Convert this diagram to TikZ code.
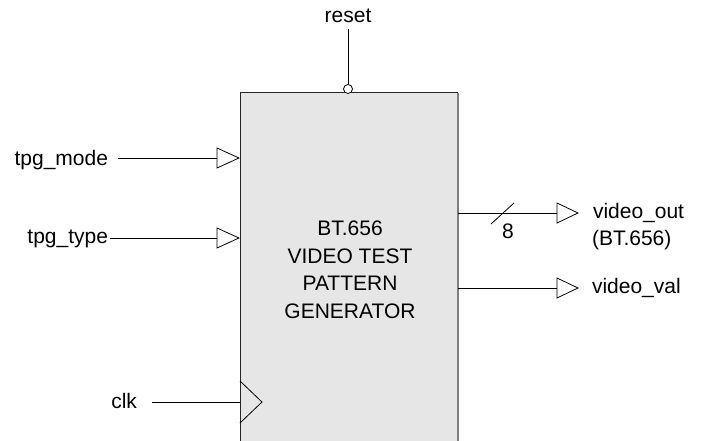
\documentclass[tikz,border=0pt]{standalone}
\usepackage{fontspec}
\setmainfont{Liberation Sans}
\definecolor{blockgray}{HTML}{E6E6E6}
\definecolor{edgegray}{HTML}{7F7F7F}
\begin{document}
\begin{tikzpicture}[x=1pt,y=-1pt,
  font=\fontsize{21}{27.5}\selectfont,
  wire/.style={line width=1pt, black},
  tri/.style={line width=0.8pt, draw=black, fill=white, line join=miter},
  lbl/.style={inner sep=0pt, outer sep=0pt}]
\useasboundingbox (0,0) rectangle (701,441);
% block
\node[fill=blockgray, draw=none, minimum width=218pt, minimum height=348pt, anchor=north west, inner sep=0pt, outer sep=0pt] (blk) at (240,93) {};
\draw[line width=1pt, black!85] (blk.south west) -- (blk.north west) -- (blk.north east);
\draw[line width=1.6pt, edgegray] (blk.north east) -- (blk.south east);
\node[lbl, align=center, anchor=base] (title) at (350,318) {BT.656\\VIDEO TEST\\PATTERN\\GENERATOR};
% reset
\node[lbl, anchor=base, inner sep=0pt] (reset) at (348,23) {reset};
\node[circle, draw, line width=0.8pt, fill=white, minimum size=9pt, inner sep=0pt] (rstb) at (348,89) {};
\draw[wire] ([yshift=-6pt]reset.south) -- (rstb.north);
% inputs
\coordinate (pm) at (217,158);
\coordinate (pt) at (217,238);
\coordinate (ck) at (240,402);
\node[lbl, anchor=base east] (mode) at (108,165) {tpg\_mode};
\node[lbl, anchor=base east] (type) at (108,243) {tpg\_type};
\node[lbl, anchor=base east] (clk) at (137,408) {clk};
\draw[wire] ([xshift=10pt]mode.east |- pm) -- (pm);
\draw[wire] ([xshift=2pt]type.east |- pt) -- (pt);
\draw[wire] ([xshift=15pt]clk.east |- ck) -- (ck);
\draw[tri] (pm) ++(0,-10) -- ++(22,10) -- ++(-22,10) -- cycle;
\draw[tri] (pt) ++(0,-10) -- ++(22,10) -- ++(-22,10) -- cycle;
\draw[line width=0.8pt, line join=miter] (ck) ++(0,-21) -- ++(22,21) -- ++(-22,21);
% outputs
\coordinate (po) at (557,213);
\coordinate (pv) at (557,288);
\draw[wire] (blk.east |- po) -- (po);
\draw[wire] (blk.east |- pv) -- (pv);
\draw[tri] (po) ++(0,-10) -- ++(21,10) -- ++(-21,10) -- cycle;
\draw[tri] (pv) ++(0,-10) -- ++(21,10) -- ++(-21,10) -- cycle;
\draw[line width=0.8pt] (491,224) -- (514,203);
\node[lbl, anchor=base] (w8) at (508,238) {8};
\node[lbl, anchor=base west] (vout) at (593,218) {video\_out};
\node[lbl, anchor=base west] (vbt) at (592,245) {(BT.656)};
\node[lbl, anchor=base west] (vval) at (592,293) {video\_val};
\end{tikzpicture}
\end{document}
